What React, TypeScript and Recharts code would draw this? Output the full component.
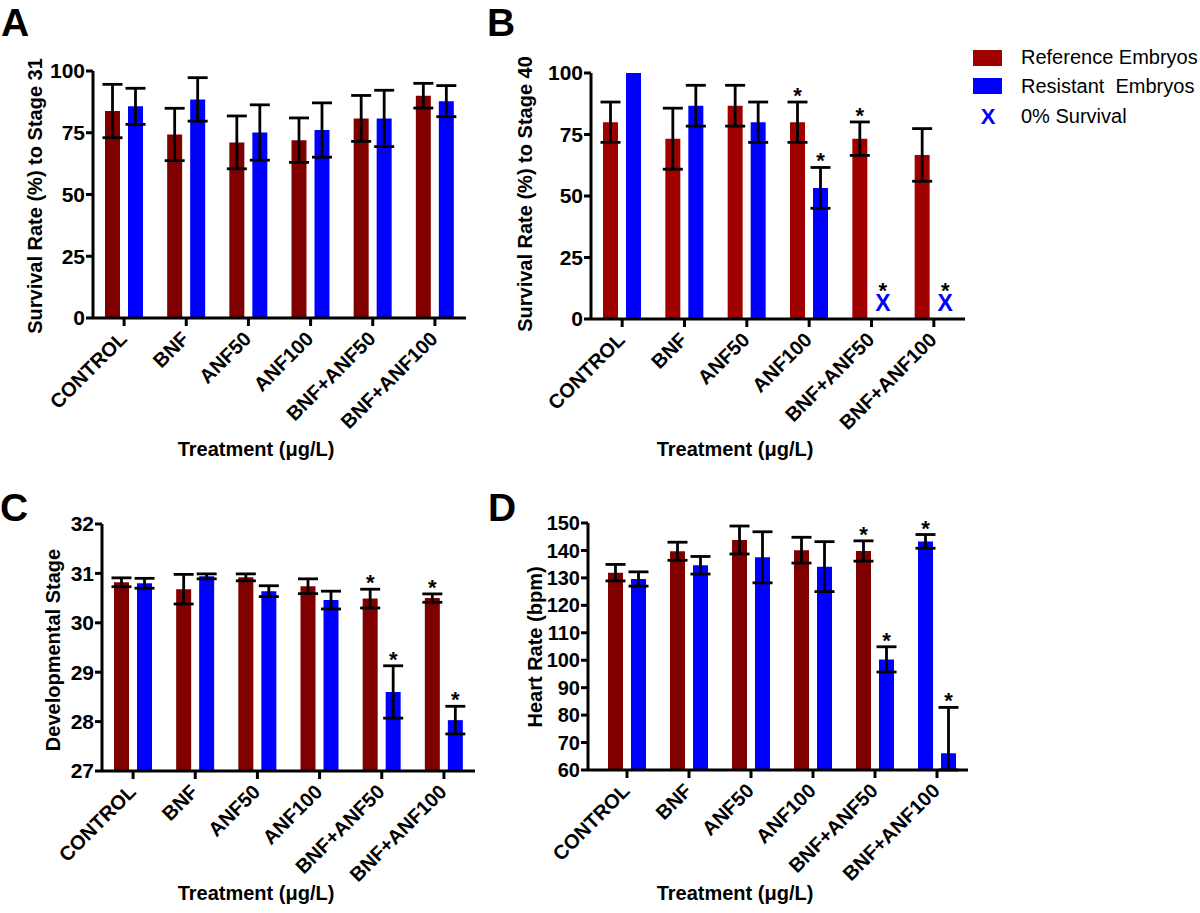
import React from "react";
import { BarChart, Bar, XAxis, YAxis, ErrorBar, LabelList, Cell } from "recharts";

const FONT = "'Liberation Sans', Arial, Helvetica, sans-serif";
const BLUE = "#0000ff";
const BAR_SIZE = 15;
const BAR_GAP = 8;

const treatments = ["CONTROL", "BNF", "ANF50", "ANF100", "BNF+ANF50", "BNF+ANF100"];

// A: survival to stage 31
const surv31Ref = [83.8, 74.3, 71.1, 72.0, 80.8, 90.0];
const surv31RefErr = [10.8, 10.6, 10.7, 9.0, 9.3, 5.0];
const surv31Res = [85.7, 88.5, 75.1, 76.1, 80.8, 87.8];
const surv31ResErr = [7.3, 8.8, 11.2, 11.0, 11.4, 6.3];

// B: survival to stage 40
const surv40Ref = [80.0, 73.3, 86.7, 80.0, 73.3, 66.7];
const surv40RefErr = [8.2, 12.4, 8.3, 8.2, 6.8, 10.7];
const surv40Res = [100, 86.7, 80.0, 53.3, 0, 0];
const surv40ResErr = [0, 8.3, 8.2, 8.3, 0, 0];
const surv40RefSig = [false, false, false, true, true, false];
const surv40ResSig = [false, false, false, true, true, true];
const surv40ResNone = [false, false, false, false, true, true];

// C: developmental stage
const stageRef = [30.82, 30.68, 30.92, 30.74, 30.49, 30.5];
const stageRefErr = [0.09, 0.3, 0.07, 0.15, 0.19, 0.085];
const stageRes = [30.8, 30.94, 30.64, 30.46, 28.6, 28.03];
const stageResErr = [0.1, 0.05, 0.11, 0.18, 0.53, 0.28];
const stageRefSig = [false, false, false, false, true, true];
const stageResSig = [false, false, false, false, true, true];

// D: heart rate
const heartRef = [131.9, 139.7, 143.8, 140.1, 139.8, 143.3];
const heartRefErr = [3.0, 3.3, 5.1, 4.7, 3.7, 2.5];
const heartRes = [129.6, 134.6, 137.5, 134.1, 100.3, 66.1];
const heartResErr = [2.6, 3.2, 9.3, 9.1, 4.6, 16.7];
const heartRefSig = [false, false, false, false, true, true];
const heartResSig = [false, false, false, false, true, true];

const noSig = [false, false, false, false, false, false];

type PanelProps = {
  left: number; top: number; width: number; height: number;
  mTop: number; mRight: number; yAxisWidth: number; xAxisHeight: number; padLeft: number;
  domain: [number, number]; ticks: number[]; tickFont?: number;
  refVals: number[]; refErr: number[]; resVals: number[]; resErr: number[];
  refSig: boolean[]; resSig: boolean[]; resNone?: boolean[];
  refColor: string; refOverride?: (string | null)[];
};

// error range clipped at the bottom of the axis, null when there is no bar
const errRange = (v: number, e: number, lo: number) => (e ? [Math.min(e, v - lo), e] : null);

const RotTick = (props: any) => {
  const { x, y, payload } = props;
  const ax = x + 4;
  const ay = y + 12;
  return (
    <text x={ax} y={ay} transform={`rotate(-45 ${ax} ${ay})`} textAnchor="end"
      fontSize={20} fontWeight={700} fontFamily={FONT} fill="#000">
      {payload.value}
    </text>
  );
};

const Star = ({ x, y }: { x: number; y: number }) => (
  <text x={x} y={y} textAnchor="middle" fontSize={22} fontWeight={700} fontFamily={FONT} fill="#000">*</text>
);

// significance stars; the ref bar also places the "0% survival" X in the empty resistant slot
function marks(errs: number[], sig: boolean[], pxPerUnit: number, none?: boolean[], noneSig?: boolean[]) {
  return (props: any) => {
    const vb = props.viewBox || props;
    const i = props.index;
    const cx = vb.x + vb.width / 2;
    const top = vb.y;
    const out: React.ReactNode[] = [];
    if (sig[i]) out.push(<Star key="s" x={cx} y={top - errs[i] * pxPerUnit + 1} />);
    if (none && none[i]) {
      const cx2 = cx + vb.width + BAR_GAP;
      const base = vb.y + vb.height;
      out.push(
        <text key="x" x={cx2} y={base - 21} textAnchor="middle" fontFamily={FONT} fontWeight={700}>
          <tspan fontSize={22} fill="#000">{noneSig && noneSig[i] ? "*" : ""}</tspan>
          <tspan x={cx2} dy={13} fontSize={23} fill={BLUE}>X</tspan>
        </text>
      );
    }
    return <g>{out}</g>;
  };
}

function Panel(p: PanelProps) {
  const lo = p.domain[0];
  const rows = treatments.map((name, i) => ({
    name,
    refV: p.refVals[i],
    resV: p.resVals[i],
    refE: errRange(p.refVals[i], p.refErr[i], lo),
    resE: errRange(p.resVals[i], p.resErr[i], lo),
  }));
  const plotH = p.height - p.mTop - p.xAxisHeight;
  const pxPerUnit = plotH / (p.domain[1] - p.domain[0]);
  const axisStyle = { stroke: "#000", strokeWidth: 3 };
  const resShown = p.resSig.map((s, i) => s && !(p.resNone && p.resNone[i]));
  return (
    <div style={{ position: "absolute", left: p.left, top: p.top }}>
      <BarChart width={p.width} height={p.height} data={rows} barSize={BAR_SIZE} barGap={BAR_GAP}
        margin={{ top: p.mTop, right: p.mRight, left: 0, bottom: 0 }}>
        <XAxis dataKey="name" interval={0} height={p.xAxisHeight} tick={<RotTick />}
          axisLine={axisStyle} tickLine={axisStyle} tickSize={8} padding={{ left: p.padLeft, right: 0 }} />
        <YAxis width={p.yAxisWidth} domain={p.domain} ticks={p.ticks} interval={0} allowDataOverflow
          axisLine={axisStyle} tickLine={axisStyle} tickSize={7} tickMargin={1}
          tick={{ fill: "#000", fontSize: p.tickFont ?? 21, fontWeight: 700, fontFamily: FONT }} />
        <Bar dataKey="refV" fill={p.refColor} isAnimationActive={false}>
          {rows.map((_, i) => (
            <Cell key={i} fill={(p.refOverride && p.refOverride[i]) || p.refColor} />
          ))}
          <ErrorBar dataKey="refE" width={10} strokeWidth={2.8} stroke="#000" direction="y" />
          <LabelList dataKey="refV" content={marks(p.refErr, p.refSig, pxPerUnit, p.resNone, p.resSig)} />
        </Bar>
        <Bar dataKey="resV" fill={BLUE} isAnimationActive={false}>
          <ErrorBar dataKey="resE" width={10} strokeWidth={2.8} stroke="#000" direction="y" />
          <LabelList dataKey="resV" content={marks(p.resErr, resShown, pxPerUnit)} />
        </Bar>
      </BarChart>
    </div>
  );
}

const titleStyle = { fontFamily: FONT, fontWeight: 700, fill: "#000" } as const;

export default function App() {
  return (
    <div style={{ position: "absolute", left: 0, top: 0, width: 1200, height: 913, background: "#fff" }}>
      <Panel left={0} top={0} width={480} height={460} mTop={71} mRight={14} yAxisWidth={93}
        xAxisHeight={142} padLeft={0} domain={[0, 100]} ticks={[0, 25, 50, 75, 100]}
        refVals={surv31Ref} refErr={surv31RefErr} resVals={surv31Res} resErr={surv31ResErr}
        refSig={noSig} resSig={noSig} refColor="#800000" />
      <Panel left={500} top={0} width={480} height={460} mTop={73} mRight={15} yAxisWidth={91}
        xAxisHeight={141} padLeft={0} domain={[0, 100]} ticks={[0, 25, 50, 75, 100]}
        refVals={surv40Ref} refErr={surv40RefErr} resVals={surv40Res} resErr={surv40ResErr}
        refSig={surv40RefSig} resSig={surv40ResSig} resNone={surv40ResNone} refColor="#a00000" />
      <Panel left={0} top={470} width={480} height={443} mTop={54} mRight={5} yAxisWidth={102}
        xAxisHeight={142} padLeft={0} domain={[27, 32]} ticks={[27, 28, 29, 30, 31, 32]}
        refVals={stageRef} refErr={stageRefErr} resVals={stageRes} resErr={stageResErr}
        refSig={stageRefSig} resSig={stageResSig} refColor="#800000" />
      <Panel left={500} top={470} width={480} height={443} mTop={53} mRight={12} yAxisWidth={88}
        xAxisHeight={143} padLeft={8} domain={[60, 150]} ticks={[60, 70, 80, 90, 100, 110, 120, 130, 140, 150]}
        tickFont={20}
        refVals={heartRef} refErr={heartRefErr} resVals={heartRes} resErr={heartResErr}
        refSig={heartRefSig} resSig={heartResSig} refColor="#800000"
        refOverride={[null, null, null, null, null, BLUE]} />

      <svg width={1200} height={913} style={{ position: "absolute", left: 0, top: 0, pointerEvents: "none" }}>
        <text x={1} y={36} fontSize={39} {...titleStyle}>A</text>
        <text x={487} y={36} fontSize={39} {...titleStyle}>B</text>
        <text x={0} y={521} fontSize={39} {...titleStyle}>C</text>
        <text x={488} y={521} fontSize={39} {...titleStyle}>D</text>

        <text transform="translate(42 196) rotate(-90)" textAnchor="middle" fontSize={20} {...titleStyle}>
          Survival Rate (%) to Stage 31
        </text>
        <text transform="translate(532 194) rotate(-90)" textAnchor="middle" fontSize={20} {...titleStyle}>
          Survival Rate (%) to Stage 40
        </text>
        <text transform="translate(60 650) rotate(-90)" textAnchor="middle" fontSize={20} {...titleStyle}>
          Developmental Stage
        </text>
        <text transform="translate(542 647) rotate(-90)" textAnchor="middle" fontSize={20} {...titleStyle}>
          Heart Rate (bpm)
        </text>

        <text x={256} y={456} textAnchor="middle" fontSize={20} {...titleStyle}>Treatment (μg/L)</text>
        <text x={735} y={456} textAnchor="middle" fontSize={20} {...titleStyle}>Treatment (μg/L)</text>
        <text x={256} y={900} textAnchor="middle" fontSize={20} {...titleStyle}>Treatment (μg/L)</text>
        <text x={735} y={900} textAnchor="middle" fontSize={20} {...titleStyle}>Treatment (μg/L)</text>

        <rect x={973} y={50} width={29} height={16} fill="#a00000" />
        <rect x={973} y={78} width={29} height={16} fill={BLUE} />
        <text x={988} y={124} textAnchor="middle" fontSize={22} fontWeight={700} fontFamily={FONT} fill={BLUE}>X</text>
        <text x={1021} y={64} fontSize={20} fontFamily={FONT} fill="#000">Reference Embryos</text>
        <text x={1021} y={93} fontSize={20} fontFamily={FONT} fill="#000" style={{ whiteSpace: "pre" }}>Resistant  Embryos</text>
        <text x={1021} y={123} fontSize={20} fontFamily={FONT} fill="#000">0% Survival</text>
      </svg>
    </div>
  );
}
